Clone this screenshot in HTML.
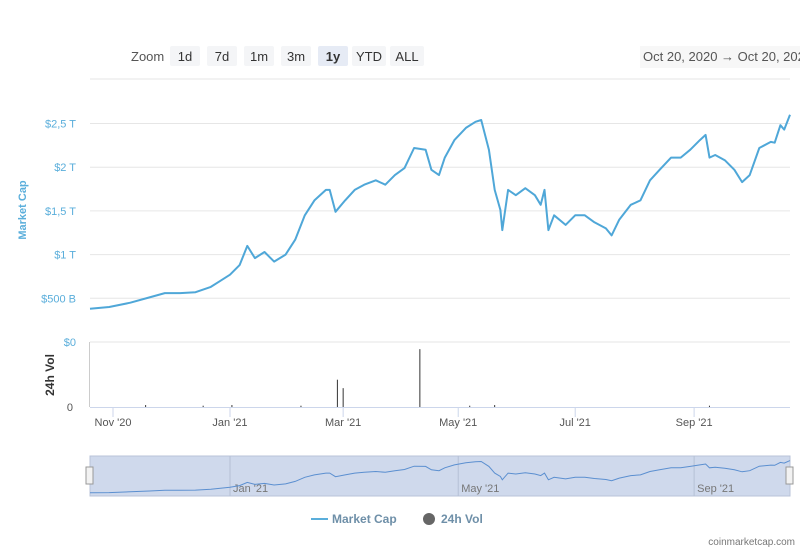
<!DOCTYPE html>
<html><head><meta charset="utf-8"><style>
body{margin:0;background:#fff;width:800px;height:550px;overflow:hidden;font-family:"Liberation Sans",sans-serif}
svg{display:block}
</style></head><body>
<svg id="c" width="800" height="550">
 <g font-size="13" fill="#333">
  <text x="131" y="61" fill="#555">Zoom</text>
  <rect x="170" y="46" width="30" height="20" rx="2" fill="#f4f5f7"/><text x="185" y="61" text-anchor="middle">1d</text>
  <rect x="207" y="46" width="30" height="20" rx="2" fill="#f4f5f7"/><text x="222" y="61" text-anchor="middle">7d</text>
  <rect x="244" y="46" width="30" height="20" rx="2" fill="#f4f5f7"/><text x="259" y="61" text-anchor="middle">1m</text>
  <rect x="281" y="46" width="30" height="20" rx="2" fill="#f4f5f7"/><text x="296" y="61" text-anchor="middle">3m</text>
  <rect x="318" y="46" width="30" height="20" rx="2" fill="#e6ebf5"/><text x="333" y="61" text-anchor="middle" font-weight="bold">1y</text>
  <rect x="352" y="46" width="34" height="20" rx="2" fill="#f4f5f7"/><text x="369" y="61" text-anchor="middle">YTD</text>
  <rect x="390" y="46" width="34" height="20" rx="2" fill="#f4f5f7"/><text x="407" y="61" text-anchor="middle">ALL</text>
 </g>
 <rect x="640" y="46" width="160" height="22" fill="#f7f7f7"/>
 <text x="643" y="61" font-size="13" fill="#555">Oct 20, 2020  →  Oct 20, 2021</text>
 <text transform="translate(26,210) rotate(-90)" text-anchor="middle" font-size="11" font-weight="bold" fill="#5aaedb">Market Cap</text>
 <text transform="translate(54,375) rotate(-90)" text-anchor="middle" font-size="12" font-weight="bold" fill="#333">24h Vol</text>
 <line x1="90" y1="79" x2="790" y2="79" stroke="#e6e6e6"/>
 <g id="grid"></g><g id="ax"></g><g id="vol"></g>
 <path id="line" fill="none" stroke="#4fa7d8" stroke-width="2" stroke-linejoin="round"/>
 <rect x="90" y="456" width="700" height="40" fill="#cfd9ec" stroke="#b8c3d8"/>
 <g id="nav"></g>
 <path id="navline" fill="none" stroke="#5b8fd0" stroke-width="1"/>
 <rect x="86" y="467" width="7" height="17" fill="#f2f2f2" stroke="#999"/>
 <rect x="786" y="467" width="7" height="17" fill="#f2f2f2" stroke="#999"/>
 <g font-size="12" font-weight="bold" fill="#6e8fa8">
  <line x1="311" y1="519" x2="328" y2="519" stroke="#5aaedb" stroke-width="2"/>
  <text x="332" y="523">Market Cap</text>
  <circle cx="429" cy="519" r="6" fill="#666"/>
  <text x="441" y="523">24h Vol</text>
 </g>
 <text x="795" y="545" text-anchor="end" font-size="10" fill="#777">coinmarketcap.com</text>
</svg>
<script>
const days=[0,10,21,31,39,47,55,63,68,73,78,82,86,91,96,102,107,112,117,123,125,128,133,138,143,149,154,159,164,169,175,178,182,185,190,196,201,204,208,211,214,215,218,222,227,232,235,237,239,242,248,253,258,263,269,272,276,282,287,292,297,303,308,313,318,321,323,326,331,336,340,344,349,355,357,360,362,365];
const capT=[0.38,0.40,0.45,0.51,0.56,0.56,0.57,0.63,0.70,0.77,0.88,1.10,0.96,1.03,0.92,1.00,1.17,1.45,1.62,1.74,1.74,1.49,1.62,1.74,1.80,1.85,1.80,1.91,1.99,2.22,2.20,1.97,1.91,2.11,2.31,2.45,2.52,2.54,2.20,1.74,1.51,1.28,1.74,1.68,1.76,1.68,1.57,1.74,1.28,1.45,1.34,1.45,1.45,1.37,1.30,1.22,1.40,1.57,1.62,1.85,1.97,2.11,2.11,2.20,2.31,2.37,2.11,2.14,2.08,1.97,1.83,1.91,2.22,2.29,2.28,2.48,2.43,2.60];
const volDays=[29,59,74,110,129,132,172,198,211,323];
const volVals=[3,2,3,2,42,29,89,2,3,2];
const yTicks=[0.5,1,1.5,2,2.5];
const yLabels=["$500 B","$1 T","$1,5 T","$2 T","$2,5 T"];
const xTickDays=[12,73,132,192,253,315];
const xLabels=["Nov '20","Jan '21","Mar '21","May '21","Jul '21","Sep '21"];
const navTickDays=[73,192,315];
const navLabels=["Jan '21","May '21","Sep '21"];
const NS="http://www.w3.org/2000/svg";
const X=d=>90+d*700/365, Y=v=>342-v*87.4, VY=v=>407-v*0.65, NY=v=>494-(v-0.3)*14.5;
function mk(t,a,p,txt){const e=document.createElementNS(NS,t);for(const k in a)e.setAttribute(k,a[k]);if(txt!==undefined)e.textContent=txt;p.appendChild(e);return e;}
const g=document.getElementById('grid'),ax=document.getElementById('ax'),vol=document.getElementById('vol'),nav=document.getElementById('nav');
yTicks.forEach((v,i)=>{
 const l=mk('line',{x1:90,x2:790,y1:Y(v),y2:Y(v),stroke:'#e6e6e6'},g);
 
 
 const t=mk('text',{x:76,y:Y(v)+4,'text-anchor':'end','font-size':11,fill:'#5aaedb'},ax,yLabels[i]);
 
 
});
const vt=mk('text',{x:76,y:346,'text-anchor':'end','font-size':11,fill:'#5aaedb'},ax,'$0');


const vz=mk('text',{x:73,y:411,'text-anchor':'end','font-size':11,fill:'#555'},ax,'0');


const vl=mk('line',{x1:90,x2:790,y1:342,y2:342,stroke:'#e6e6e6'},ax);


const xa=mk('line',{x1:90,x2:790,y1:407.5,y2:407.5,stroke:'#ccd6eb'},ax);


const va=mk('line',{x1:89.5,x2:89.5,y1:342,y2:407,stroke:'#ccc'},ax);


xTickDays.forEach((d,i)=>{
 const tk=mk('line',{x1:X(d),x2:X(d),y1:407,y2:417,stroke:'#ccd6eb'},ax);
 
 
 const t=mk('text',{x:X(d),y:426,'text-anchor':'middle','font-size':11,fill:'#555'},ax,xLabels[i]);
 
 
});
volDays.forEach((d,i)=>{
 const b=mk('line',{x1:X(d),x2:X(d),y1:407,y2:VY(volVals[i]),stroke:'#333','stroke-width':1},vol);
 
 
});
document.getElementById('line').setAttribute('d',days.map((d,i)=>(i?'L':'M')+X(d).toFixed(1)+','+Y(capT[i]).toFixed(1)).join(''));
document.getElementById('navline').setAttribute('d',days.map((d,i)=>(i?'L':'M')+X(d).toFixed(1)+','+NY(capT[i]).toFixed(1)).join(''));
navTickDays.forEach((d,i)=>{
 const l=mk('line',{x1:X(d),x2:X(d),y1:456,y2:496,stroke:'#b5c0d5'},nav);
 
 
 const t=mk('text',{x:X(d)+3,y:492,'font-size':11,fill:'#777'},nav,navLabels[i]);
 
 
});
</script>
</body></html>
